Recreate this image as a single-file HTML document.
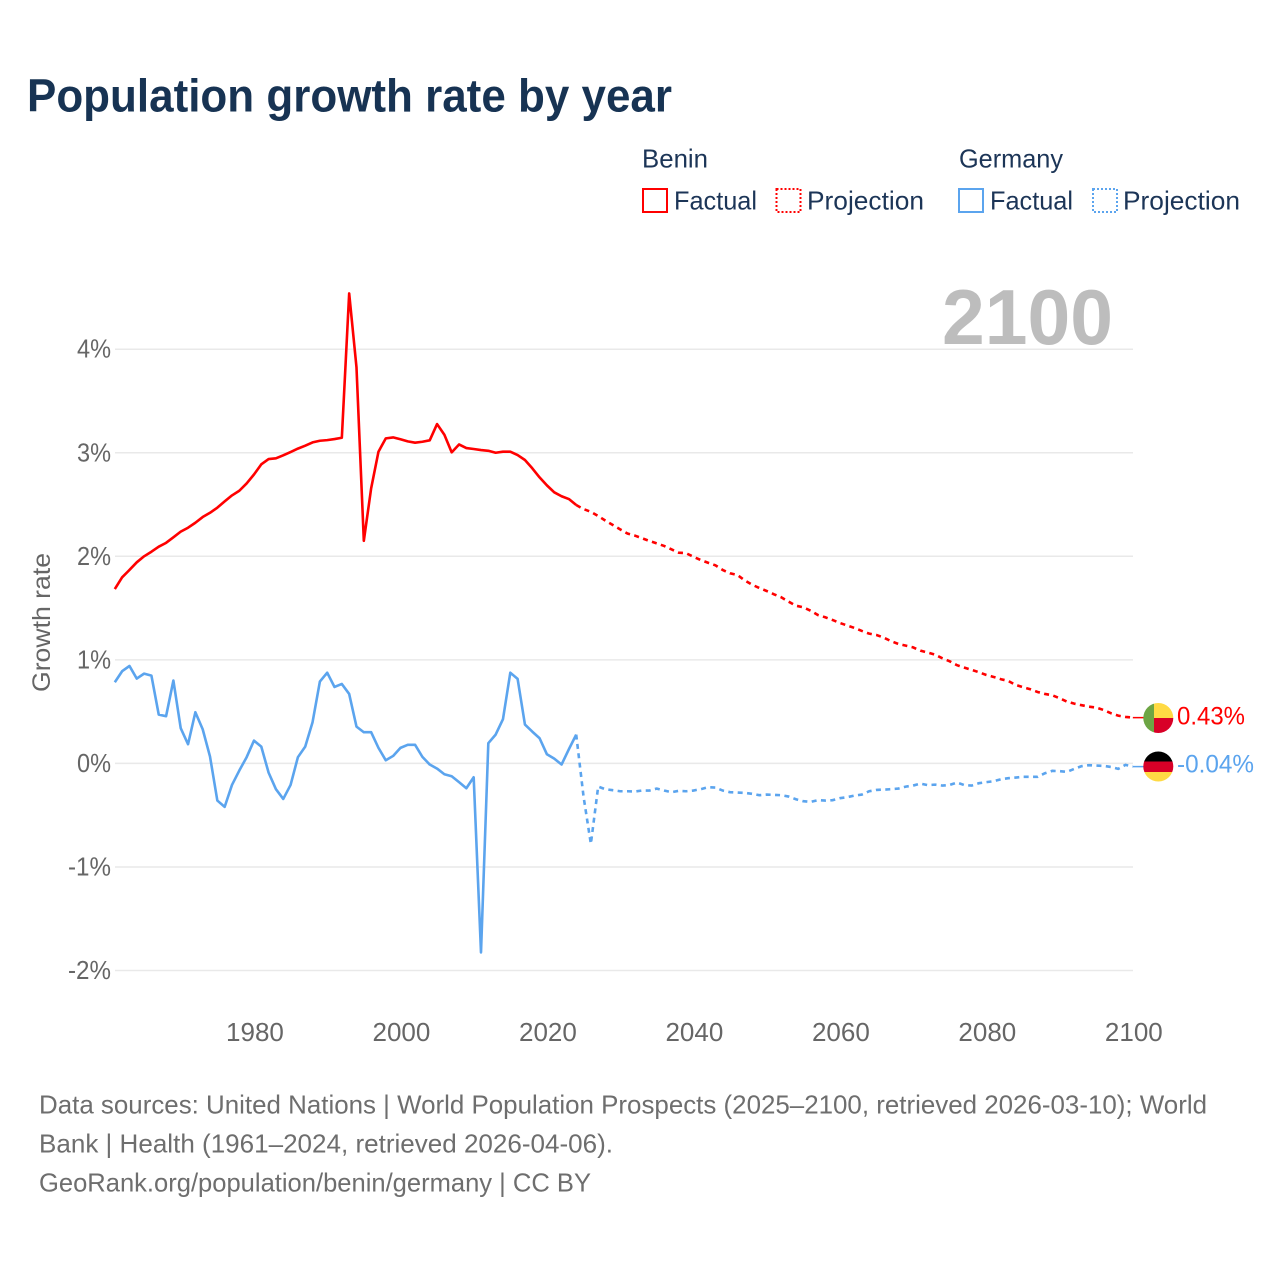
<!DOCTYPE html>
<html lang="en">
<head>
<meta charset="utf-8">
<title>Population growth rate by year</title>
<style>
  html, body { margin: 0; padding: 0; background: #ffffff; }
  svg { display: block; font-family: "Liberation Sans", sans-serif; }
</style>
</head>
<body>
<svg id="chart" width="1280" height="1280" viewBox="0 0 1280 1280" xmlns="http://www.w3.org/2000/svg">
  <rect x="0" y="0" width="1280" height="1280" fill="#ffffff"/>
  <text x="27" y="111.5" font-size="46" font-weight="700" fill="#173353" textLength="645" lengthAdjust="spacingAndGlyphs">Population growth rate by year</text>

  <g font-size="26" fill="#1c3557">
    <text x="642" y="167.5" textLength="66" lengthAdjust="spacingAndGlyphs">Benin</text>
    <rect x="643" y="189" width="24" height="23" fill="none" stroke="#ff0000" stroke-width="2"/>
    <text x="674" y="209.5" textLength="83" lengthAdjust="spacingAndGlyphs">Factual</text>
    <rect x="776.5" y="189" width="24" height="23" fill="none" stroke="#ff0000" stroke-width="2" stroke-dasharray="2 2"/>
    <text x="807" y="209.5" textLength="117" lengthAdjust="spacingAndGlyphs">Projection</text>
    <text x="959" y="167.5" textLength="104" lengthAdjust="spacingAndGlyphs">Germany</text>
    <rect x="959" y="189" width="24" height="23" fill="none" stroke="#5ba4ee" stroke-width="2"/>
    <text x="990" y="209.5" textLength="83" lengthAdjust="spacingAndGlyphs">Factual</text>
    <rect x="1093" y="189" width="24" height="23" fill="none" stroke="#5ba4ee" stroke-width="2" stroke-dasharray="2 2"/>
    <text x="1123" y="209.5" textLength="117" lengthAdjust="spacingAndGlyphs">Projection</text>
  </g>

  <g id="grid"></g>
  <text x="1113" y="344" text-anchor="end" font-size="78" font-weight="700" fill="#bdbdbd" textLength="171" lengthAdjust="spacingAndGlyphs">2100</text>
  <g id="y-ticks" font-size="26" fill="#666666"></g>
  <g id="x-ticks" font-size="26" fill="#666666"></g>
  <text transform="translate(50,692) rotate(-90)" font-size="25" fill="#666666" textLength="139" lengthAdjust="spacingAndGlyphs">Growth rate</text>
  <g id="series"></g>

  <defs>
    <clipPath id="flag-clip-benin"><circle cx="1158.3" cy="718" r="15"/></clipPath>
    <clipPath id="flag-clip-germany"><circle cx="1158.3" cy="766.5" r="15"/></clipPath>
  </defs>
  <g clip-path="url(#flag-clip-benin)">
    <rect x="1143" y="703" width="11" height="30" fill="#6da544"/>
    <rect x="1154" y="703" width="20" height="15" fill="#ffda44"/>
    <rect x="1154" y="718" width="20" height="15" fill="#d80027"/>
  </g>
  <g clip-path="url(#flag-clip-germany)">
    <rect x="1143" y="751" width="31" height="10.5" fill="#000000"/>
    <rect x="1143" y="761.5" width="31" height="10.5" fill="#d80027"/>
    <rect x="1143" y="772" width="31" height="10.5" fill="#ffda44"/>
  </g>
  <g id="end-labels" font-size="25"></g>

  <g font-size="26" fill="#6e6e6e">
    <text x="39" y="1113.5" textLength="1168" lengthAdjust="spacingAndGlyphs">Data sources: United Nations | World Population Prospects (2025–2100, retrieved 2026-03-10); World</text>
    <text x="39" y="1152.5" textLength="574" lengthAdjust="spacingAndGlyphs">Bank | Health (1961–2024, retrieved 2026-04-06).</text>
    <text x="39" y="1191.5" textLength="552" lengthAdjust="spacingAndGlyphs">GeoRank.org/population/benin/germany | CC BY</text>
  </g>
</svg>

<script>
const factualYears = [1961,1962,1963,1964,1965,1966,1967,1968,1969,1970,1971,1972,1973,1974,1975,1976,1977,1978,1979,1980,1981,1982,1983,1984,1985,1986,1987,1988,1989,1990,1991,1992,1993,1994,1995,1996,1997,1998,1999,2000,2001,2002,2003,2004,2005,2006,2007,2008,2009,2010,2011,2012,2013,2014,2015,2016,2017,2018,2019,2020,2021,2022,2023,2024];
const projectionYears = [2024,2025,2026,2027,2028,2029,2030,2031,2032,2033,2034,2035,2036,2037,2038,2039,2040,2041,2042,2043,2044,2045,2046,2047,2048,2049,2050,2051,2052,2053,2054,2055,2056,2057,2058,2059,2060,2061,2062,2063,2064,2065,2066,2067,2068,2069,2070,2071,2072,2073,2074,2075,2076,2077,2078,2079,2080,2081,2082,2083,2084,2085,2086,2087,2088,2089,2090,2091,2092,2093,2094,2095,2096,2097,2098,2099,2100];
const beninFactual = [1.684,1.797,1.868,1.942,2.0,2.044,2.093,2.13,2.183,2.238,2.276,2.324,2.379,2.42,2.47,2.53,2.588,2.633,2.704,2.79,2.888,2.939,2.946,2.975,3.007,3.04,3.068,3.1,3.116,3.122,3.132,3.145,4.539,3.824,2.15,2.656,3.01,3.139,3.148,3.13,3.11,3.097,3.106,3.12,3.277,3.174,3.004,3.08,3.045,3.036,3.026,3.019,3.0,3.01,3.01,2.978,2.93,2.85,2.762,2.685,2.618,2.58,2.553,2.495];
const beninProjection = [2.495,2.456,2.43,2.389,2.344,2.302,2.26,2.22,2.2,2.174,2.148,2.125,2.1,2.067,2.035,2.03,1.996,1.964,1.938,1.913,1.868,1.836,1.82,1.768,1.726,1.694,1.665,1.633,1.604,1.562,1.523,1.508,1.475,1.433,1.411,1.385,1.356,1.332,1.308,1.279,1.253,1.24,1.214,1.18,1.153,1.137,1.12,1.089,1.07,1.05,1.015,0.986,0.948,0.925,0.903,0.88,0.854,0.835,0.813,0.796,0.758,0.736,0.716,0.69,0.671,0.658,0.629,0.597,0.577,0.562,0.548,0.539,0.516,0.485,0.461,0.449,0.442];
const germanyFactual = [0.784,0.89,0.941,0.819,0.867,0.848,0.471,0.456,0.8,0.34,0.185,0.494,0.33,0.066,-0.359,-0.42,-0.208,-0.069,0.06,0.22,0.162,-0.089,-0.249,-0.343,-0.208,0.06,0.162,0.398,0.79,0.876,0.738,0.767,0.671,0.355,0.301,0.301,0.15,0.03,0.072,0.15,0.179,0.179,0.063,-0.011,-0.05,-0.105,-0.124,-0.181,-0.24,-0.134,-1.826,0.195,0.278,0.427,0.876,0.816,0.375,0.307,0.243,0.088,0.046,-0.011,0.137,0.278];
const germanyProjection = [0.278,-0.32,-0.777,-0.224,-0.25,-0.259,-0.269,-0.269,-0.272,-0.262,-0.262,-0.243,-0.262,-0.278,-0.265,-0.269,-0.262,-0.249,-0.23,-0.233,-0.262,-0.278,-0.281,-0.285,-0.294,-0.307,-0.301,-0.304,-0.307,-0.32,-0.346,-0.365,-0.372,-0.355,-0.359,-0.355,-0.336,-0.326,-0.311,-0.301,-0.269,-0.256,-0.253,-0.249,-0.243,-0.224,-0.214,-0.195,-0.21,-0.205,-0.214,-0.208,-0.185,-0.21,-0.214,-0.191,-0.181,-0.172,-0.153,-0.143,-0.137,-0.13,-0.13,-0.13,-0.095,-0.072,-0.075,-0.082,-0.053,-0.027,-0.017,-0.021,-0.024,-0.034,-0.053,-0.014,-0.031];
const beninEndValue = 0.43;
const germanyEndValue = -0.04;
const xTickYears = [1980,2000,2020,2040,2060,2080,2100];
const yTickValues = [4,3,2,1,0,-1,-2];

const BENIN_COLOR = '#ff0000';
const GERMANY_COLOR = '#5ba4ee';
const SVG_NS = 'http://www.w3.org/2000/svg';

function xScale(year) { return 114.8 + (year - 1961) * 7.324; }
function yScale(value) { return 763.4 - value * 103.55; }
function make(tag, parent, attrs) {
  const node = document.createElementNS(SVG_NS, tag);
  for (const key in attrs) node.setAttribute(key, attrs[key]);
  parent.appendChild(node);
  return node;
}
function linePath(years, values) {
  return years.map((yr, i) => (i ? 'L' : 'M') + xScale(yr).toFixed(2) + ' ' + yScale(values[i]).toFixed(2)).join(' ');
}

const gridGroup = document.getElementById('grid');
const yTickGroup = document.getElementById('y-ticks');
yTickValues.forEach(function (v) {
  const grid = make('line', gridGroup, { x1: 115, x2: 1133, y1: yScale(v), y2: yScale(v), stroke: '#e9e9e9', 'stroke-width': 1.5 });
  
  
  const label = v + '%';
  const tick = make('text', yTickGroup, { x: 111, y: yScale(v) + 8.5, 'text-anchor': 'end', textLength: v < 0 ? 43 : 34, lengthAdjust: 'spacingAndGlyphs' });
  tick.textContent = label;
  
  
});

const xTickGroup = document.getElementById('x-ticks');
xTickYears.forEach(function (yr) {
  const tick = make('text', xTickGroup, { x: xScale(yr) + 1, y: 1041, 'text-anchor': 'middle' });
  tick.textContent = String(yr);
  
  
});

const seriesGroup = document.getElementById('series');

const beninLine = make('path', seriesGroup, { d: linePath(factualYears, beninFactual), fill: 'none', stroke: BENIN_COLOR, 'stroke-width': 2.6, 'stroke-linejoin': 'round' });



const beninDash = make('path', seriesGroup, { d: linePath(projectionYears, beninProjection), fill: 'none', stroke: BENIN_COLOR, 'stroke-width': 2.6, 'stroke-dasharray': '5 4.4' });



const germanyLine = make('path', seriesGroup, { d: linePath(factualYears, germanyFactual), fill: 'none', stroke: GERMANY_COLOR, 'stroke-width': 2.6, 'stroke-linejoin': 'round' });



const germanyDash = make('path', seriesGroup, { d: linePath(projectionYears, germanyProjection), fill: 'none', stroke: GERMANY_COLOR, 'stroke-width': 2.6, 'stroke-dasharray': '5 4.4' });



const beninLast = beninProjection[beninProjection.length - 1];
const germanyLast = germanyProjection[germanyProjection.length - 1];

const beninLink = make('line', seriesGroup, { x1: xScale(2100), y1: yScale(beninLast), x2: 1144, y2: yScale(beninLast), stroke: BENIN_COLOR, 'stroke-width': 1.5 });



const germanyLink = make('line', seriesGroup, { x1: xScale(2100), y1: yScale(germanyLast), x2: 1144, y2: yScale(germanyLast), stroke: GERMANY_COLOR, 'stroke-width': 1.5 });



const endGroup = document.getElementById('end-labels');

const beninEnd = make('text', endGroup, { x: 1177, y: 724.5, fill: BENIN_COLOR, textLength: 68, lengthAdjust: 'spacingAndGlyphs' });
beninEnd.textContent = beninEndValue.toFixed(2) + '%';



const germanyEnd = make('text', endGroup, { x: 1177, y: 772.5, fill: GERMANY_COLOR, textLength: 77, lengthAdjust: 'spacingAndGlyphs' });
germanyEnd.textContent = germanyEndValue.toFixed(2) + '%';


</script>
</body>
</html>
